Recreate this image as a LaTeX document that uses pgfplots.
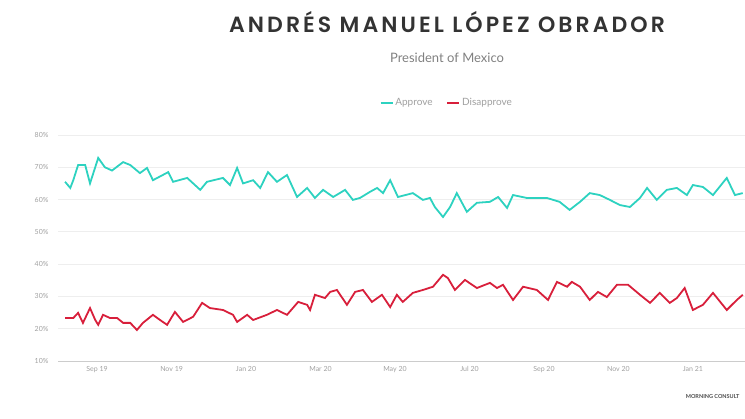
\documentclass[border=0pt]{standalone}
\usepackage{fontspec}
\setmainfont{Lato}
\newfontfamily\titlefont[LetterSpace=14]{Poppins SemiBold}
\usepackage{pgfplots}
\pgfplotsset{compat=1.18}

\definecolor{approve}{HTML}{2DD2C0}
\definecolor{disapprove}{HTML}{D81F3B}
\definecolor{gridc}{HTML}{EEEEEE}
\definecolor{labc}{HTML}{A0A0A0}

\begin{document}
\begin{tikzpicture}[x=1pt,y=1pt]
  \useasboundingbox (0,0) rectangle (745,419);
  % x is months since Sep 2019
  \begin{axis}[
      at={(58pt,58pt)}, anchor=south west,
      scale only axis,
      width=687pt, height=226pt,
      xmin=-1.05, xmax=17.40,
      ymin=10, ymax=80,
      axis line style={draw=none},
      axis x line*=bottom,
      ytick={10,20,...,80},
      yticklabel={\pgfmathprintnumber{\tick}\%},
      xtick={0,2,...,16},
      xticklabels={Sep 19,Nov 19,Jan 20,Mar 20,May 20,Jul 20,Sep 20,Nov 20,Jan 21},
      tick style={draw=none},
      ymajorgrids,
      grid style={gridc, line width=0.8pt},
      ticklabel style={font=\fontsize{7}{8}\selectfont, text=labc},
      /pgf/number format/assume math mode=true,
      yticklabel style={xshift=-6pt},
      xticklabel style={yshift=-2pt},
      legend columns=2,
      legend style={at={(0.566,1.142)}, anchor=center, draw=none,
        font=\fontsize{10}{12}\selectfont, text=labc,
        /tikz/every even column/.append style={column sep=12pt}},
      legend image code/.code={\draw[#1, line width=1.6pt] (0pt,0pt) -- (12pt,0pt);},
    ]
    \addplot[approve, line width=1.8pt] coordinates {
      (-0.86,65.5) (-0.72,63.6) (-0.64,66.0) (-0.51,70.7) (-0.32,70.7)
      (-0.19,65.0) (0.03,72.9) (0.21,70.0) (0.40,69.0) (0.70,71.6)
      (0.89,70.7) (1.15,68.2) (1.34,69.8) (1.50,66.0) (1.91,68.5)
      (2.04,65.5) (2.42,66.7) (2.77,63.0) (2.95,65.5) (3.38,66.7)
      (3.57,64.5) (3.76,69.8) (3.92,65.0) (4.19,66.0) (4.38,63.6)
      (4.59,68.5) (4.83,65.5) (5.10,67.6) (5.37,60.8) (5.64,63.6)
      (5.85,60.5) (6.07,63.0) (6.34,60.8) (6.66,63.0) (6.87,59.9)
      (7.06,60.5) (7.33,62.4) (7.52,63.6) (7.68,62.0) (7.87,66.0)
      (8.08,60.8) (8.48,62.0) (8.75,59.9) (8.94,60.5) (9.07,57.7)
      (9.29,54.6) (9.48,57.7) (9.66,62.0) (9.93,56.2) (10.20,59.0)
      (10.55,59.3) (10.77,60.8) (11.01,57.4) (11.17,61.4) (11.54,60.5)
      (12.08,60.5) (12.42,59.3) (12.69,56.8) (12.97,59.3) (13.23,62.0)
      (13.50,61.4) (13.77,59.9) (14.04,58.3) (14.31,57.7) (14.58,60.5)
      (14.77,63.6) (15.03,59.9) (15.30,63.0) (15.57,63.6) (15.84,61.4)
      (16.00,64.5) (16.27,63.9) (16.54,61.4) (16.91,66.7) (17.13,61.4)
      (17.34,62.0)
    };
    \addplot[disapprove, line width=1.8pt] coordinates {
      (-0.86,23.3) (-0.64,23.3) (-0.51,24.9) (-0.38,21.8) (-0.19,26.4)
      (-0.05,22.7) (0.03,21.2) (0.16,24.3) (0.35,23.3) (0.54,23.3)
      (0.70,21.8) (0.89,21.8) (1.07,19.6) (1.23,21.8) (1.50,24.3)
      (1.69,22.7) (1.88,21.2) (2.09,25.2) (2.31,22.1) (2.58,23.7)
      (2.82,28.0) (3.03,26.4) (3.38,25.8) (3.65,24.3) (3.76,22.1)
      (4.03,24.3) (4.19,22.7) (4.56,24.3) (4.83,25.8) (5.10,24.3)
      (5.40,28.3) (5.64,27.4) (5.72,25.8) (5.85,30.5) (6.12,29.5)
      (6.26,31.4) (6.44,32.0) (6.71,27.4) (6.93,31.4) (7.14,32.0)
      (7.38,28.3) (7.65,30.5) (7.87,26.7) (8.05,30.5) (8.21,28.3)
      (8.48,31.1) (8.75,32.0) (9.02,33.0) (9.29,36.7) (9.42,35.7)
      (9.61,32.0) (9.88,35.1) (10.20,32.6) (10.55,34.2) (10.74,32.6)
      (10.90,33.6) (11.17,28.9) (11.44,33.0) (11.81,32.0) (12.11,28.9)
      (12.35,34.5) (12.62,33.0) (12.75,34.5) (12.97,33.0) (13.23,28.9)
      (13.45,31.4) (13.69,29.8) (13.96,33.6) (14.26,33.6) (14.58,30.5)
      (14.85,28.0) (15.11,31.1) (15.38,28.0) (15.57,29.5) (15.78,32.6)
      (16.00,25.8) (16.27,27.4) (16.54,31.1) (16.91,25.8) (17.18,28.9)
      (17.34,30.5)
    };
    \legend{Approve, Disapprove}
  \end{axis}
  \draw[draw=black!20, line width=0.8pt] (58,58) -- (745,58);
  \node[font=\titlefont\fontsize{22}{25}\selectfont, text=black!80] at (447,397) {ANDRÉS MANUEL LÓPEZ OBRADOR};
  \node[font=\fontsize{13}{15}\selectfont, text=black!50] at (447,361) {President of Mexico};
  \node[font=\bfseries\fontsize{5.5}{6}\selectfont, text=black!70, anchor=east] at (743,22) {MORNING CONSULT};
\end{tikzpicture}
\end{document}
